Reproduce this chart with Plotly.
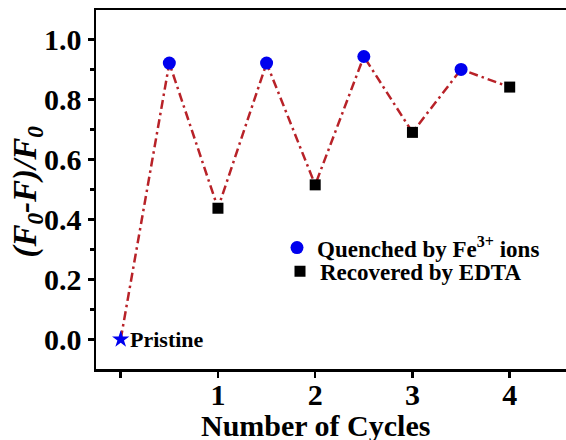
import plotly.graph_objects as go

# Data
pristine_x = [0]
pristine_y = [0.0]
quench_x = [0.5, 1.5, 2.5, 3.5]
quench_y = [0.921, 0.921, 0.943, 0.900]
recover_x = [1, 2, 3, 4]
recover_y = [0.437, 0.515, 0.690, 0.841]
tick_vals = [0, 1, 2, 3, 4]
tick_text = ["", "1", "2", "3", "4"]

# connecting line through all points in order
all_pts = sorted(zip(pristine_x + quench_x + recover_x, pristine_y + quench_y + recover_y))
line_x = [p[0] for p in all_pts]
line_y = [p[1] for p in all_pts]

FONT = "Liberation Serif"
W = 580  # plot extends past the right edge of the 566px window, as in the reference

fig = go.Figure()
fig.add_trace(go.Scatter(x=line_x, y=line_y, mode="lines",
                         line=dict(color="#B82228", width=2.5, dash="9px,4px,2.5px,4px"),
                         showlegend=False, hoverinfo="skip"))
fig.add_trace(go.Scatter(x=pristine_x, y=pristine_y, mode="markers",
                         marker=dict(symbol="star", size=13, color="#0000EE"),
                         showlegend=False))
fig.add_trace(go.Scatter(x=quench_x, y=quench_y, mode="markers",
                         marker=dict(symbol="circle", size=13, color="#0000EE"),
                         name="Quenched by Fe<sup>3+</sup> ions", legend="legend"))
fig.add_trace(go.Scatter(x=recover_x, y=recover_y, mode="markers",
                         marker=dict(symbol="square", size=11, color="#000000"),
                         name="Recovered by EDTA", legend="legend2"))

fig.add_annotation(x=0, y=0, text="<b>Pristine</b>", showarrow=False,
                   xanchor="left", yanchor="middle", xshift=7,
                   font=dict(family=FONT, size=22, color="black"))

# axis titles as annotations
fig.add_annotation(xref="paper", yref="paper", x=-0.142, y=0.495,
                   text="<b><i>(F<sub>0</sub>-F)/F<sub>0</sub></i></b>", showarrow=False,
                   textangle=-90, xanchor="center", yanchor="middle",
                   font=dict(family=FONT, size=33, color="black"))
fig.add_annotation(x=2.0, yref="paper", y=-0.156,
                   text="<b>Number of Cycles</b>", showarrow=False,
                   xanchor="center", yanchor="middle",
                   font=dict(family=FONT, size=30, color="black"))

fig.update_xaxes(range=[-0.254, -0.254 + (W - 96) / 97.25], tickvals=tick_vals, ticktext=tick_text,
                 automargin=False,
                 showgrid=False, zeroline=False,
                 showline=True, linecolor="black", linewidth=2.5, mirror=True,
                 ticks="outside", ticklen=6, tickwidth=2.5, tickcolor="black",
                 ticklabelstandoff=-9,
                 tickfont=dict(family=FONT, size=30, color="black", weight="bold"))
fig.update_yaxes(range=[-0.099, 1.098], tickvals=[0, 0.2, 0.4, 0.6, 0.8, 1.0],
                 ticktext=["0.0", "0.2", "0.4", "0.6", "0.8", "1.0"],
                 automargin=False,
                 showgrid=False, zeroline=False,
                 showline=True, linecolor="black", linewidth=2.5, mirror=False,
                 ticks="outside", ticklen=6, tickwidth=2.5, tickcolor="black",
                 minor=dict(tickvals=[-0.1, 0.1, 0.3, 0.5, 0.7, 0.9], ticks="outside",
                            ticklen=4, tickwidth=2.5, tickcolor="black"),
                 tickfont=dict(family=FONT, size=30, color="black", weight="bold"))

legend_font = dict(family=FONT, size=23, color="black", weight="bold")
fig.update_layout(width=W, height=440,
                  margin=dict(l=96, r=0, t=10, b=71),
                  paper_bgcolor="white", plot_bgcolor="white",
                  hovermode=False,
                  legend=dict(xref="paper", x=(277 - 96) / (W - 96), y=0.398,
                              xanchor="left", yanchor="top",
                              bgcolor="rgba(0,0,0,0)", itemwidth=30, font=legend_font),
                  legend2=dict(xref="paper", x=(280 - 96) / (W - 96), y=0.332,
                               xanchor="left", yanchor="top",
                               bgcolor="rgba(0,0,0,0)", itemwidth=30, font=legend_font))

fig.write_html("out.html", config={"displayModeBar": False, "staticPlot": True},
               post_script="document.body.style.margin='0';document.body.style.overflow='hidden';")
